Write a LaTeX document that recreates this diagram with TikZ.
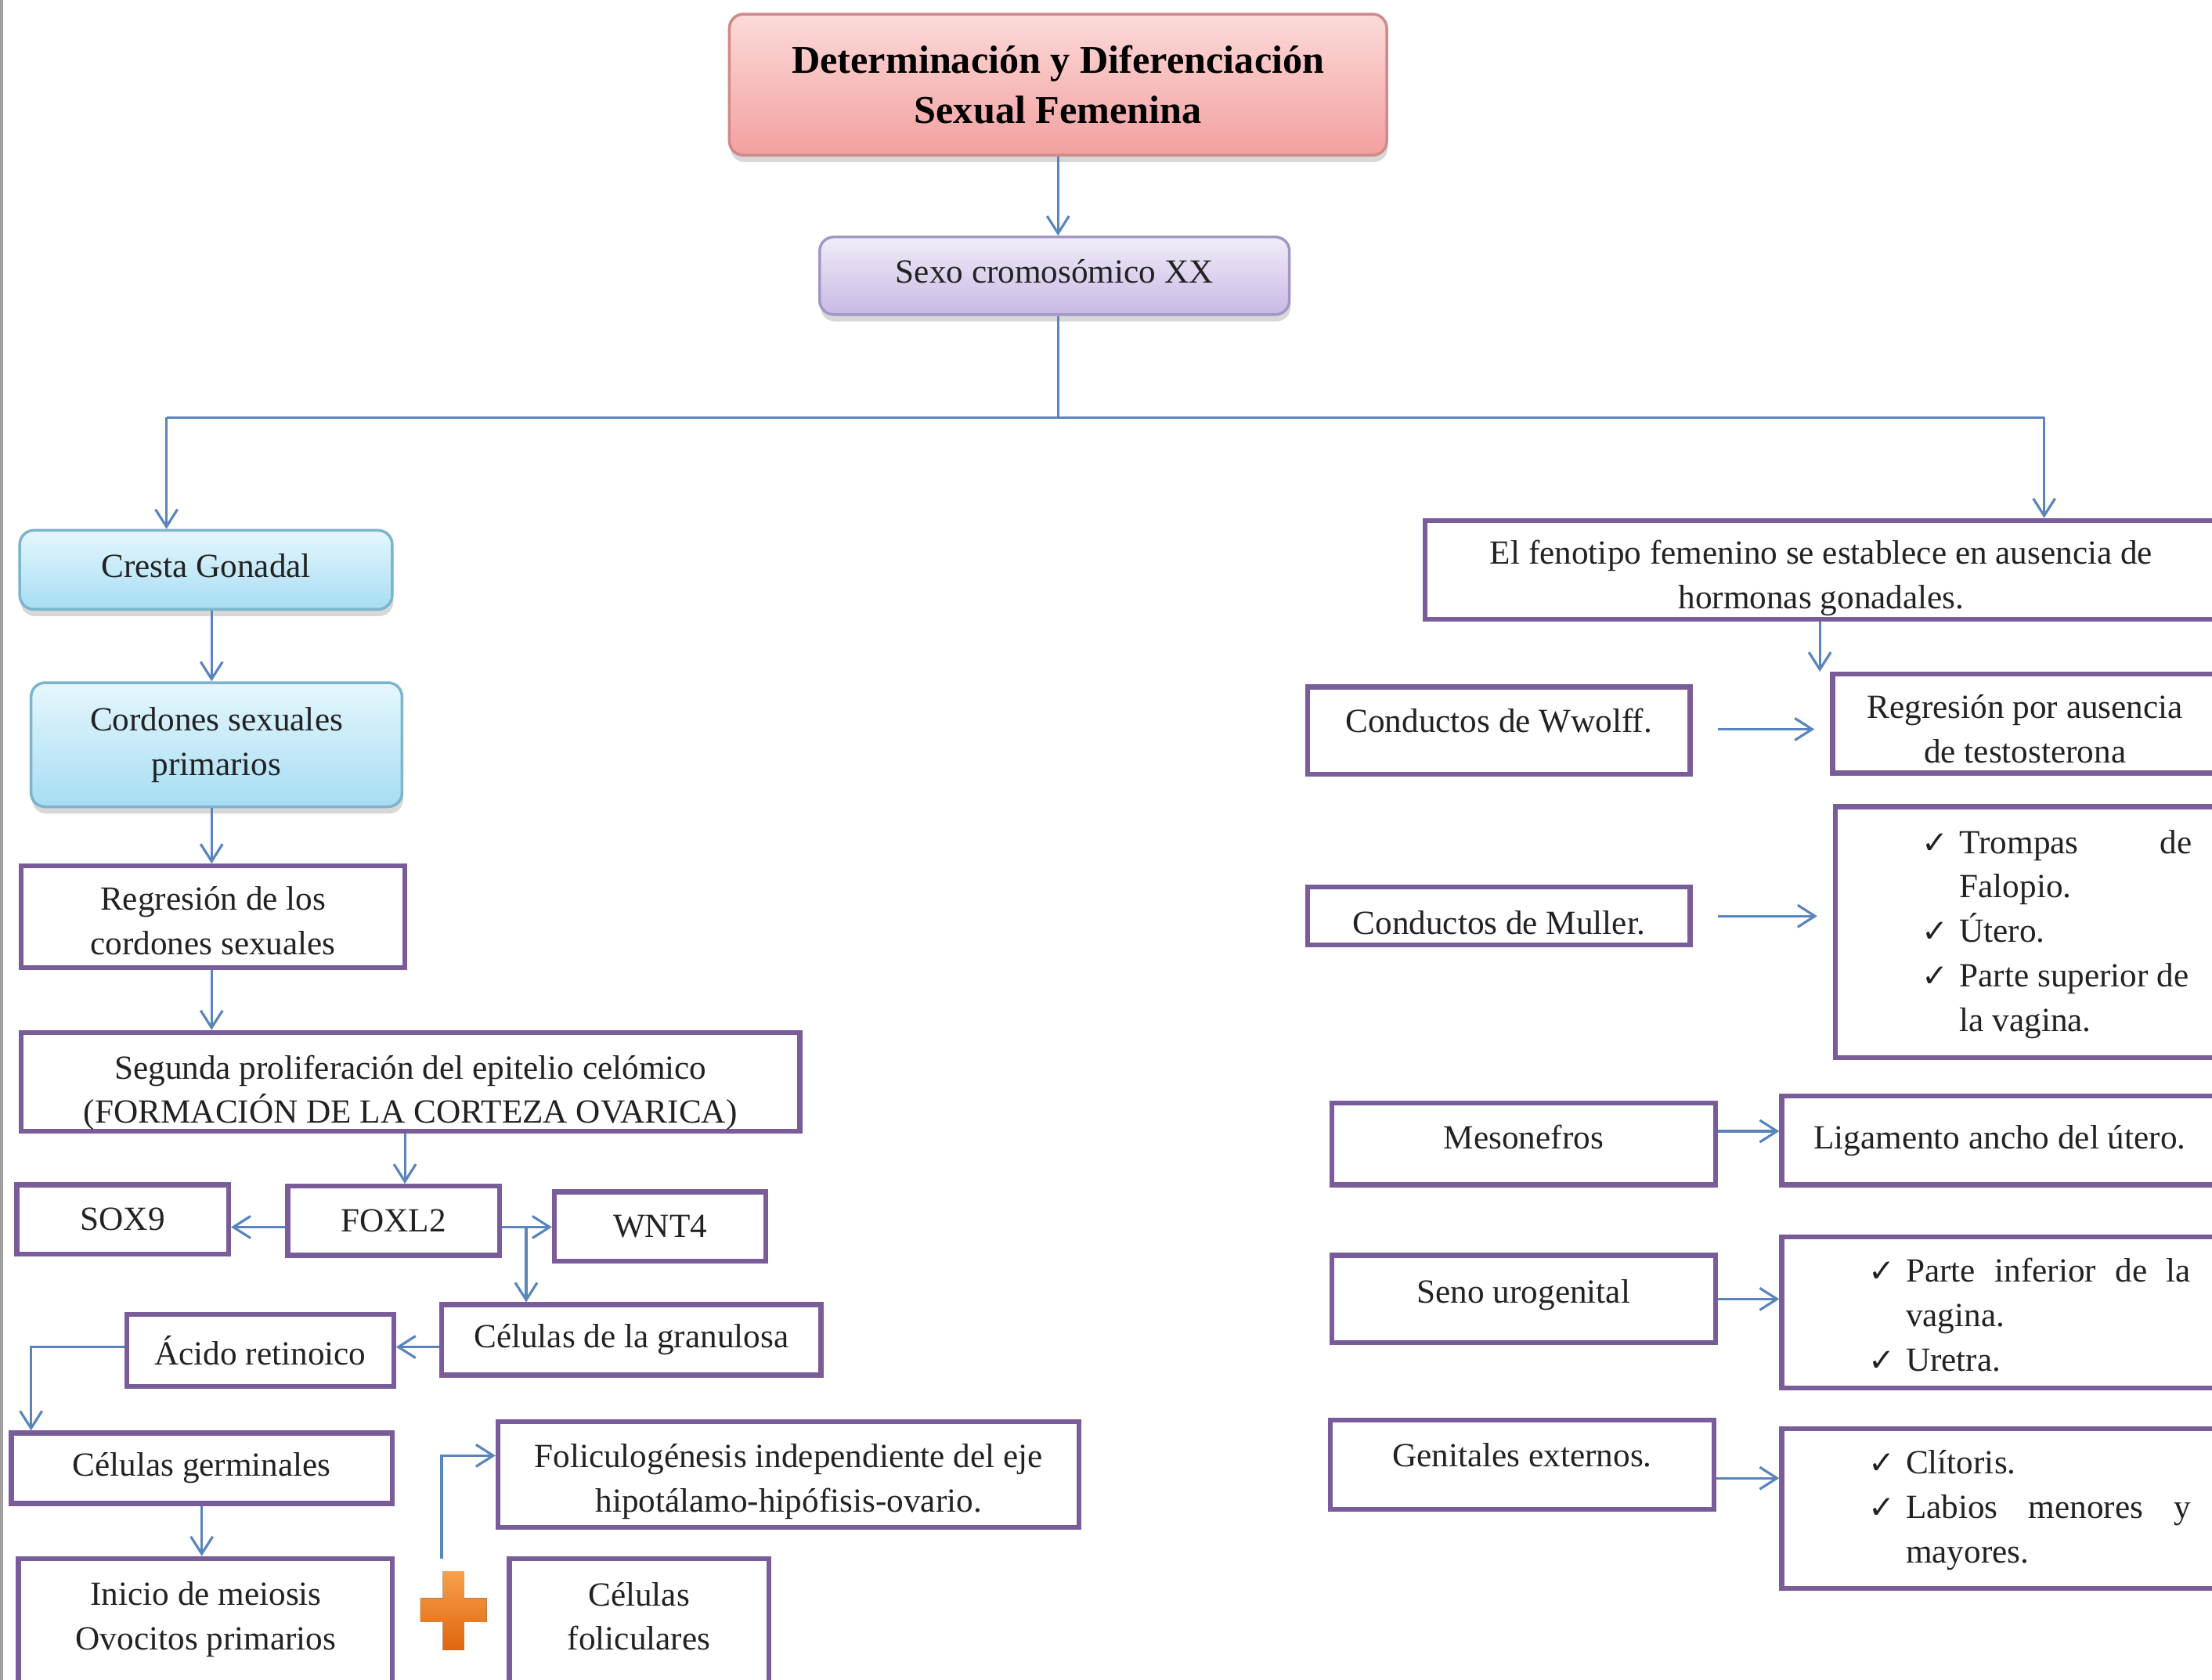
\documentclass[tikz,border=0pt]{standalone}
\usepackage{fontspec}
\setmainfont{Liberation Serif}
\newfontfamily\symf{DejaVu Sans}
\usetikzlibrary{arrows.meta,shadows}
\definecolor{arrc}{HTML}{5A85BC}
\definecolor{purc}{HTML}{7A5C9A}
\definecolor{txtc}{HTML}{222222}
\definecolor{redtop}{HTML}{FBDAD9}
\definecolor{redbot}{HTML}{F3A09F}
\definecolor{redbd}{HTML}{D08A8A}
\definecolor{viotop}{HTML}{F1ECF8}
\definecolor{viobot}{HTML}{C8B9E4}
\definecolor{viobd}{HTML}{A596C8}
\definecolor{cyantop}{HTML}{E6F7FD}
\definecolor{cyanbot}{HTML}{A6DDF3}
\definecolor{cyanbd}{HTML}{7DB5CE}
\definecolor{orgtop}{HTML}{F7A04A}
\definecolor{orgbot}{HTML}{E0650E}
\newcommand\ftxt{\fontsize{12.3}{16.15}\selectfont}
\newcommand\fttl{\fontsize{14.3}{18.4}\selectfont\bfseries}
\newcommand\ck{\makebox[0.48cm][l]{{\symf\fontsize{11.5}{12}\selectfont ✓}}}
% shift a line of text vertically without changing its box
\newcommand\sh[2]{\raisebox{#1}[\height][\depth]{#2}}
% box from corner (x1,y1) to (x2,y2) in picture units
\newcommand\bx[7]{\node[#1, minimum width={(#5-#3)*0.018017cm}, minimum height={(#6-#4)*0.018017cm}] (#2) at ({(#3+#5)/2},{(#4+#6)/2}) {#7};}
\tikzset{
  conn/.style={draw=arrc, line width=0.9pt, -{Straight Barb[length=2.2mm,width=2.8mm]}},
  conline/.style={draw=arrc, line width=0.9pt},
  pbox/.style={draw=purc, line width=1.8pt, fill=white, inner sep=0pt, font=\ftxt, text=txtc, align=center},
  tbox/.style={inner sep=0pt, font=\ftxt, text=txtc, align=center},
  roundbox/.style={rounded corners=0.18cm, line width=1pt, inner sep=0pt, align=center,
     font=\ftxt, text=txtc,
     drop shadow={shadow xshift=0.4pt, shadow yshift=-2.5pt, opacity=0.3}},
  redbox/.style={roundbox, draw=redbd, top color=redtop, bottom color=redbot, font=\fttl, text=black},
  viobox/.style={roundbox, draw=viobd, top color=viotop, bottom color=viobot},
  cyanbox/.style={roundbox, draw=cyanbd, top color=cyantop, bottom color=cyanbot},
}
\begin{document}
\begin{tikzpicture}[x=0.018017cm, y=-0.018017cm]
\useasboundingbox (0,0) rectangle (1568,1191);
\clip (0,0) rectangle (1568,1191);
\fill[white] (0,0) rectangle (1568,1191);
\draw[gray!75, line width=1.2pt] (1,0) -- (1,1191);

% top
\bx{redbox}{title}{517}{10}{983}{110}{Determinación y Diferenciación\\Sexual Femenina}
\bx{viobox}{sexo}{581}{168}{914}{223}{\sh{1.5pt}{Sexo cromosómico XX}}

% left column
\bx{cyanbox}{cresta}{14}{376}{278}{432}{\sh{1.5pt}{Cresta Gonadal}}
\bx{cyanbox}{cordones}{22}{484}{285}{572}{Cordones sexuales\\primarios}
\bx{pbox}{regr1}{15}{614}{287}{686}{\sh{-1.5pt}{Regresión de los}\\\sh{-1.5pt}{cordones sexuales}}
\bx{pbox}{segunda}{15}{732}{567}{802}{\sh{-4pt}{Segunda proliferación del epitelio celómico}\\\sh{-4pt}{(FORMACIÓN DE LA CORTEZA OVARICA)}}
\bx{pbox}{sox9}{12}{840}{162}{889}{SOX9}
\bx{pbox}{foxl2}{204}{841}{354}{890}{FOXL2}
\bx{pbox}{wnt4}{393}{845}{543}{894}{WNT4}
\bx{pbox}{gran}{313}{925}{582}{975}{Células de la granulosa}
\bx{pbox}{acido}{90}{932}{279}{983}{Ácido retinoico}
\bx{pbox}{germ}{8}{1016}{278}{1066}{Células germinales}
\bx{pbox}{inicio}{13}{1105}{278}{1205}{}
\node[tbox] (inicioT) at (146,1148) {Inicio de meiosis\\Ovocitos primarios};
\bx{pbox}{folic}{353}{1008}{765}{1083}{\sh{-2.5pt}{Foliculogénesis independiente del eje}\\\sh{-2.5pt}{hipotálamo-hipófisis-ovario.}}
\bx{pbox}{folicel}{361}{1105}{545}{1205}{}
\node[tbox] (folicelT) at (453,1146) {Células\\foliculares};

% orange plus
\fill[top color=orgtop, bottom color=orgbot] (314,1114) -- (329,1114) -- (329,1133) -- (345,1133) -- (345,1150) -- (329,1150) -- (329,1170) -- (314,1170) -- (314,1150) -- (298,1150) -- (298,1133) -- (314,1133) -- cycle;

% right column
\bx{pbox}{feno}{1010}{369}{1572}{439}{\sh{-3pt}{El fenotipo femenino se establece en ausencia de}\\\sh{-3pt}{hormonas gonadales.}}
\bx{pbox}{wolff}{927}{487}{1198}{549}{\sh{3.6pt}{Conductos de Wwolff.}}
\bx{pbox}{regA}{1299}{478}{1572}{548}{\sh{-2pt}{Regresión por ausencia}\\\sh{-2pt}{de testosterona}}
\bx{pbox}{muller}{927}{629}{1198}{670}{\sh{-2.5pt}{Conductos de Muller.}}
\bx{pbox}{trompas}{1301}{572}{1578}{750}{}
\node[tbox, anchor=base west, align=left] (trompasT) at (1362,605) {\begin{tabular}[t]{@{}l@{}l@{}}\ck & \makebox[2.97cm][s]{Trompas\hfill de}\\ & Falopio.\\ \ck & Útero.\\ \ck & Parte superior de\\ & la vagina.\end{tabular}};
\bx{pbox}{meso}{944}{782}{1216}{840}{\sh{2.5pt}{Mesonefros}}
\bx{pbox}{lig}{1263}{777}{1572}{840}{Ligamento ancho del útero.}
\bx{pbox}{seno}{944}{890}{1216}{952}{\sh{1.5pt}{Seno urogenital}}
\bx{pbox}{parte}{1263}{877}{1578}{984}{}
\node[tbox, anchor=base west, align=left] (parteT) at (1324,909) {\begin{tabular}[t]{@{}l@{}l@{}}\ck & \makebox[3.64cm][s]{Parte\hfill inferior\hfill de\hfill la}\\ & vagina.\\ \ck & Uretra.\end{tabular}};
\bx{pbox}{genit}{943}{1007}{1215}{1070}{\sh{3.6pt}{Genitales externos.}}
\bx{pbox}{clit}{1263}{1013}{1578}{1126}{}
\node[tbox, anchor=base west, align=left] (clitT) at (1324,1045) {\begin{tabular}[t]{@{}l@{}l@{}}\ck & Clítoris.\\ \ck & \makebox[3.64cm][s]{Labios\hfill menores\hfill y}\\ & mayores.\end{tabular}};

% helper coordinates
\coordinate (hub) at (750,296);
\coordinate (lft) at (118,296);
\coordinate (rgt) at (1449,296);
\coordinate (v150) at (150,0);
\coordinate (v287) at (287,0);
\coordinate (br) at (373,870);
\coordinate (h870) at (0,870);
\coordinate (h955) at (0,955);
\coordinate (v22) at (22,0);
\coordinate (pl) at (313,1105);
\coordinate (h1032) at (0,1032);
\coordinate (v1290) at (1290,0);
\coordinate (h517) at (0,517);
\coordinate (h802) at (0,802);
\coordinate (h1048) at (0,1048);

% connectors
\draw[conn] (title.south) -- (title.south |- sexo.north);
\draw[conline] (hub |- sexo.south) -- (hub);
\draw[conline] (lft) -- (rgt);
\draw[conn] (lft) -- (lft |- cresta.north);
\draw[conn] (rgt) -- (rgt |- feno.north);
\draw[conn] (cresta.south -| v150) -- (cordones.north -| v150);
\draw[conn] (cordones.south -| v150) -- (regr1.north -| v150);
\draw[conn] (regr1.south -| v150) -- (segunda.north -| v150);
\draw[conn] (segunda.south -| v287) -- (foxl2.north -| v287);
\draw[conn] (foxl2.west |- h870) -- (sox9.east |- h870);
\draw[conn] (foxl2.east |- h870) -- (wnt4.west |- h870);
\draw[conn] (br) -- (br |- gran.north);
\draw[conn] (gran.west |- h955) -- (acido.east |- h955);
\draw[conn] (acido.west |- h955) -| (germ.north -| v22);
\draw[conn] (germ.south) -- (germ.south |- inicio.north);
\draw[conn] (pl) |- (folic.west |- h1032);
\draw[conn] (feno.south -| v1290) -- (regA.north -| v1290);
\draw[conn, shorten <=0.32cm, shorten >=0.2cm] (wolff.east |- h517) -- (regA.west |- h517);
\draw[conn, shorten <=0.32cm, shorten >=0.2cm] (muller.east) -- (muller.east -| trompas.west);
\draw[conn] (meso.east |- h802) -- (lig.west |- h802);
\draw[conn] (seno.east) -- (seno.east -| parte.west);
\draw[conn] (genit.east |- h1048) -- (clit.west |- h1048);
\end{tikzpicture}
\end{document}
